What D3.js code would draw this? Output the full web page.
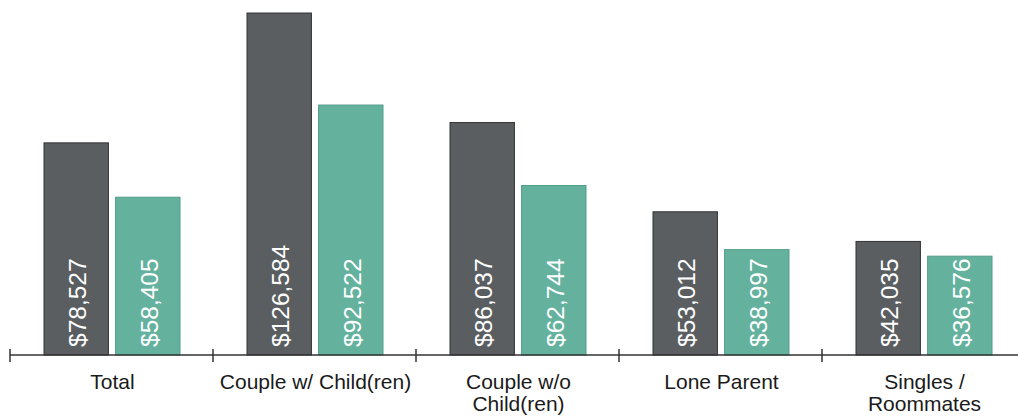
<!DOCTYPE html>
<html>
<head>
<meta charset="utf-8">
<script src="https://cdn.jsdelivr.net/npm/d3@7"></script>
<style>
  html, body { margin: 0; padding: 0; background: #ffffff; }
  svg { display: block; }
  text { font-family: "Liberation Sans", Arial, sans-serif; }
</style>
</head>
<body>
<div id="chart"></div>
<script>
const categories = ["Total", "Couple w/ Child(ren)", "Couple w/o\nChild(ren)", "Lone Parent", "Singles /\nRoommates"];
const seriesNames = ["Series A", "Series B"];
const seriesA = [78527, 126584, 86037, 53012, 42035];
const seriesB = [58405, 92522, 62744, 38997, 36576];

const W = 1018, H = 419;
const svg = d3.select("#chart").append("svg").attr("width", W).attr("height", H);

const axisY = 355;
const x0 = d3.scaleBand().domain(categories).range([10, 1025]).paddingInner(0).paddingOuter(0);
const x1 = d3.scaleBand().domain(seriesNames).range([34, 170]).paddingInner(0.1).paddingOuter(0);
const y = d3.scaleLinear().domain([0, 130000]).range([axisY, 3.8]);

const fills = { "Series A": "#5a5e61", "Series B": "#64b19e" };
const strokes = { "Series A": "#303234", "Series B": "#519d8a" };
const fmt = d3.format(",");

const rows = categories.map((c, i) => ({ cat: c, vals: [
  { s: "Series A", v: seriesA[i] },
  { s: "Series B", v: seriesB[i] }
]}));

const g = svg.selectAll("g.cat").data(rows).enter().append("g")
  .attr("class", "cat")
  .attr("transform", d => `translate(${x0(d.cat)},0)`);

g.selectAll("rect").data(d => d.vals).enter().append("rect")
  .attr("x", d => x1(d.s))
  .attr("y", d => y(d.v))
  .attr("width", x1.bandwidth())
  .attr("height", d => axisY - y(d.v))
  .attr("fill", d => fills[d.s])
  .attr("stroke", d => strokes[d.s])
  .attr("stroke-width", 1);

g.selectAll("text.val").data(d => d.vals).enter().append("text")
  .attr("class", "val")
  .attr("transform", d => `translate(${x1(d.s) + x1.bandwidth() / 2 + 1},${axisY - 8}) rotate(-90)`)
  .attr("text-anchor", "start")
  .attr("dy", "0.36em")
  .attr("fill", "#ffffff")
  .attr("font-size", "24.5px")
  .text(d => "$" + fmt(d.v));

// axis
const ax = svg.append("g").attr("stroke", "#333333");
ax.append("line")
  .attr("x1", x0.range()[0]).attr("x2", x0.range()[1])
  .attr("y1", axisY).attr("y2", axisY)
  .attr("stroke-width", 1.5);
const tickXs = categories.map(c => x0(c)).concat([x0.range()[1]]);
ax.selectAll("line.tick").data(tickXs).enter().append("line")
  .attr("class", "tick")
  .attr("x1", d => d).attr("x2", d => d)
  .attr("y1", axisY - 6).attr("y2", axisY + 7)
  .attr("stroke-width", 1.5);

// category labels
const lab = svg.selectAll("text.cat").data(categories).enter().append("text")
  .attr("class", "cat")
  .attr("x", d => x0(d) + x0.bandwidth() / 2 + 1)
  .attr("y", 389)
  .attr("text-anchor", "middle")
  .attr("fill", "#1a1a1a")
  .attr("font-size", "21px");
lab.selectAll("tspan").data(d => d.split("\n")).enter().append("tspan")
  .attr("x", function() { return d3.select(this.parentNode).attr("x"); })
  .attr("dy", (d, i) => i === 0 ? 0 : 22)
  .text(d => d);
</script>
</body>
</html>
